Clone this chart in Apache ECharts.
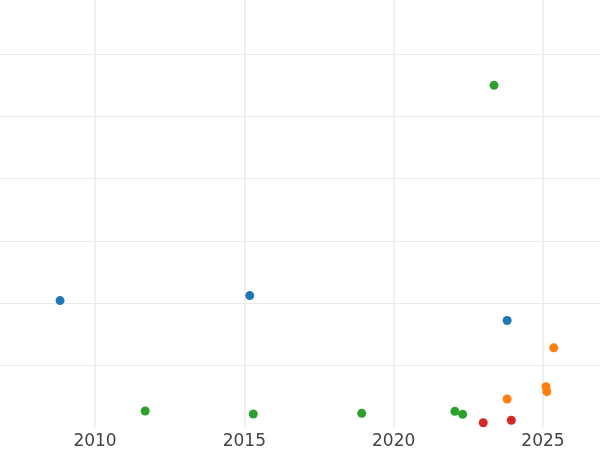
<!DOCTYPE html>
<html>
<head>
<meta charset="utf-8">
<script src="https://cdn.jsdelivr.net/npm/echarts@6/dist/echarts.min.js"></script>
<style>
  html, body { margin: 0; padding: 0; background: #fff; }
  #chart { width: 600px; height: 450px; }
</style>
</head>
<body>
<div id="chart"></div>
<script>
  // x = year (decimal), y = value
  var blueX = [2008.83, 2015.18, 2023.80]
  var blueY = [20.4, 21.2, 17.2]
  var greenX = [2023.36, 2011.68, 2015.30, 2018.93, 2022.05, 2022.31]
  var greenY = [55.0, 2.65, 2.17, 2.28, 2.60, 2.12]
  var orangeX = [2025.36, 2025.10, 2025.13, 2023.80]
  var orangeY = [12.8, 6.56, 5.76, 4.58]
  var redX = [2023.00, 2023.94]
  var redY = [0.77, 1.16]

  function pairs (xs, ys) {
    var out = []
    for (var i = 0; i < xs.length; i++) {
      out.push([xs[i], ys[i]])
    }
    return out
  }

  var chart = echarts.init(document.getElementById('chart'))
  var grid = '#ebebeb'

  function dots (name, color, xs, ys) {
    return {
      name: name,
      type: 'scatter',
      symbol: 'circle',
      symbolSize: 9,
      itemStyle: { color: color, opacity: 1 },
      data: pairs(xs, ys)
    }
  }

  chart.setOption({
    animation: false,
    backgroundColor: '#fff',
    grid: {
      left: -54.3,
      right: -92.3,
      top: -8,
      bottom: 22.5,
      containLabel: false,
      outerBoundsMode: 'none'
    },
    xAxis: {
      type: 'value',
      min: 2005,
      max: 2030,
      interval: 5,
      axisLine: { show: false },
      axisTick: { show: false },
      axisLabel: {
        color: '#444',
        fontSize: 17,
        fontFamily: 'DejaVu Sans',
        margin: 6,
        formatter: function (v) { return String(v) }
      },
      splitLine: { show: true, lineStyle: { color: grid, width: 1.5 } }
    },
    yAxis: {
      type: 'value',
      min: 0,
      max: 70,
      interval: 10,
      axisLine: { show: false },
      axisTick: { show: false },
      axisLabel: { show: false },
      splitLine: { show: true, showMinLine: false, lineStyle: { color: grid, width: 1.2 } }
    },
    series: [
      dots('blue', '#1f77b4', blueX, blueY),
      dots('green', '#2ca02c', greenX, greenY),
      dots('orange', '#ff7f0e', orangeX, orangeY),
      dots('red', '#d62728', redX, redY)
    ]
  })
</script>
</body>
</html>
